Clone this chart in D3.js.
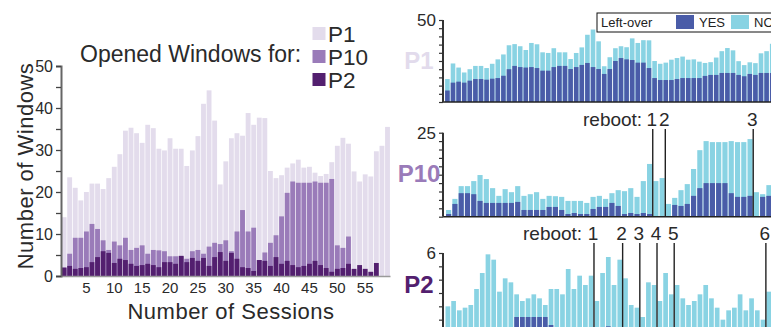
<!DOCTYPE html>
<html><head><meta charset="utf-8">
<script src="https://cdn.jsdelivr.net/npm/d3@7"></script>
<style>
body{margin:0;background:#fff;}
svg{display:block;font-family:"Liberation Sans",Arial,sans-serif;}
</style>
</head><body>
<svg id="c" width="771" height="327"></svg>
<script>
// ---------- data ----------
const p1Total = [14, 23.5, 21, 18, 20, 22, 22, 20.7, 23.3, 26,
  29, 34.6, 35.3, 34, 31.7, 36, 35.2, 30.3, 29.9, 32.8,
  30.3, 30.3, 26.2, 29.9, 33.3, 41, 44.2, 37, 21.8, 27.3,
  32.8, 34, 33.4, 38.8, 36, 37.7, 37.6, 25, 23.3, 24,
  25.8, 26.8, 27.7, 25.8, 26, 24.6, 23.8, 24.3, 27.1, 31,
  32.9, 31.5, 24.9, 22.5, 24.2, 23.7, 29.7, 31, 35.5];
const p1Yes = [7, 11.8, 12.4, 11.8, 13, 14, 14, 13.6, 14.2, 14.6,
  16, 20, 22, 21.3, 21, 21.3, 20.7, 19.1, 19.1, 21.3,
  22, 22, 20.1, 21.3, 22.6, 23.8, 21.3, 20.1, 17.1, 20.1,
  25, 26.8, 26, 25.6, 24, 24, 20.7, 14.6, 13.4, 13.4,
  13.4, 14, 14.6, 14.6, 14.6, 14.6, 15.9, 16.5, 16.5, 17.7,
  17.7, 17.7, 16.5, 15.7, 17.1, 16.5, 17.7, 17.7, 17.7];
const p10Total = [2, 5.3, 9.1, 9.1, 10.6, 12.4, 11.2, 8.5, 6.2, 8.2,
  7.3, 9.1, 6.2, 6.7, 7.3, 5.3, 6.2, 6.1, 5.9, 4.7,
  4.7, 4.7, 4.1, 5.9, 6.2, 5.3, 7, 7.9, 7.6, 8.5,
  5.9, 10.6, 15.7, 10.6, 11.5, 3.8, 5.6, 7.9, 9.7, 14.2,
  19.8, 22.5, 22.2, 22.2, 22.2, 22.5, 22.2, 22.2, 23.1, 7.3,
  6.7, 9.4];
const p10Yes = [0.8, 3.8, 7, 7, 6.7, 4.7, 4.1, 4.1, 4.1, 4.1,
  4.1, 4.4, 2, 2, 2, 2, 2.9, 2.9, 2, 0.8,
  1.1, 0.8, 0.8, 2.3, 2.9, 2.9, 4.1, 3.2, 0.8, 1.1,
  0.8, 1.1, 0.8, 0, 0, 0, 3.5, 3.2, 3.8, 6.2,
  8.5, 10, 10, 10, 10, 7, 5.9, 5.9, 6.2, 0,
  5.9, 6.2];
const p2Total = [2.0, 2.4, 1.7, 1.9, 2.1, 3.3, 4.5, 5.9, 5.5, 3.1,
  4.1, 3.8, 2.9, 2.4, 2.6, 2.9, 2.6, 2.1, 3.3, 3.3,
  2.9, 4.8, 3.3, 4.3, 3.6, 4.3, 2.4, 4.5, 5.7, 3.6,
  5.5, 4.1, 2.1, 1.9, 1.2, 3.8, 3.6, 2.4, 4.5, 2.9,
  3.6, 2.6, 2.1, 2.4, 2.9, 3.6, 2.6, 1.9, 1.0, 1.7,
  1.9, 2.9, 1.7, 2.6, 1.7, 1.0, 3.1];
const p2Yes = [0, 0, 0, 0, 0, 0, 0, 0, 0, 0,
  0, 0, 1.2, 1.2, 1.2, 1.2, 1.2, 1.2, 0.6, 0,
  0, 0, 0, 0, 0, 0, 0, 0, 0.5, 0,
  0, 0, 0, 0, 0, 0, 0, 0, 0, 0,
  0, 0, 0, 0, 0, 0, 0, 0, 0, 0,
  0, 0, 0, 0, 0, 0, 0];
const p10Reboots = [34, 36, 50];   // reboot happened before these sessions
const p2Reboots = [27, 32, 35, 38, 41, 57];
const xTickLabels = [5, 10, 15, 20, 25, 30, 35, 40, 45, 50, 55];
const yTickLabels = [0, 10, 20, 30, 40, 50];
const legendNames = ["P1", "P10", "P2"];
const leftOverNames = ["YES", "NO"];

// ---------- styles ----------
const colP1 = "#e3dcec", colP10 = "#9a7bb9", colP2 = "#531f6f";
const colYes = "#4a5ca8", colNo = "#89d3e3";
const textCol = "#2a2a2a";

const svg = d3.select("#c");

// ---------- left chart ----------
const nL = p1Total.length;
const xL = d3.scaleBand().domain(d3.range(1, nL + 1)).range([61.3, 390.3]).paddingInner(0.13).paddingOuter(0.065);
const yL = d3.scaleLinear().domain([0, 50]).range([276, 66]);
const gL = svg.append("g");

function drawBars(g, x, y, vals, color) {
  g.append("g").selectAll("rect").data(vals).join("rect")
    .attr("x", (d, i) => x(i + 1)).attr("width", x.bandwidth())
    .attr("y", d => y(d)).attr("height", d => y(0) - y(d))
    .attr("fill", color);
}
drawBars(gL, xL, yL, p1Total, colP1);
drawBars(gL, xL, yL, p10Total, colP10);
drawBars(gL, xL, yL, p2Total, colP2);

// x axis
const xAxL = gL.append("g").attr("transform", "translate(0,276.5)")
  .call(d3.axisBottom(xL).tickValues(xTickLabels).tickSize(0).tickPadding(6));
xAxL.select(".domain").attr("stroke", "#9a9a9a").attr("stroke-width", 1.6).attr("d", "M61,0H390.5");
xAxL.selectAll("text").attr("font-size", 15).attr("fill", textCol).attr("font-family", "Liberation Sans, Arial, sans-serif");

// y axis
const yAxL = gL.append("g").attr("transform", "translate(61,0)")
  .call(d3.axisLeft(yL).ticks(10).tickSize(5).tickPadding(3)
    .tickFormat(d => yTickLabels.includes(d) ? d : ""));
yAxL.select(".domain").attr("stroke", "#666").attr("stroke-width", 2);
yAxL.selectAll(".tick line").attr("stroke", "#444").attr("stroke-width", 1.3);
yAxL.selectAll("text").attr("font-size", 16).attr("fill", textCol).attr("font-family", "Liberation Sans, Arial, sans-serif");

// axis titles
svg.append("text").attr("x", 231).attr("y", 318.5).attr("text-anchor", "middle")
  .attr("font-size", 22).attr("letter-spacing", 0.5).attr("fill", textCol).text("Number of Sessions");
svg.append("text").attr("transform", "translate(33,166) rotate(-90)").attr("text-anchor", "middle")
  .attr("font-size", 22).attr("letter-spacing", 0.5).attr("fill", textCol).text("Number of Windows");

// legend
svg.append("text").attr("x", 80).attr("y", 62).attr("font-size", 23).attr("fill", textCol).text("Opened Windows for:");
const legCols = [colP1, colP10, colP2];
const leg = svg.append("g").selectAll("g").data(legendNames).join("g")
  .attr("transform", (d, i) => `translate(312.5,${27 + i * 23})`);
leg.append("rect").attr("width", 13).attr("height", 13).attr("fill", (d, i) => legCols[i]);
leg.append("text").attr("x", 15.5).attr("y", 14.5).attr("font-size", 22.5).attr("fill", textCol).text(d => d);

// ---------- right panels ----------
function panel(cfg) {
  const n = cfg.total.length;
  const x = d3.scaleBand().domain(d3.range(1, n + 1)).range(cfg.xr).paddingInner(0.18).paddingOuter(0.09);
  const y = d3.scaleLinear().domain([0, cfg.max]).range([cfg.y0, cfg.y1]);
  const g = svg.append("g");
  drawBars(g, x, y, cfg.total, colNo);
  drawBars(g, x, y, cfg.yes, colYes);
  // baseline
  g.append("g").attr("transform", `translate(0,${cfg.y0})`)
    .call(d3.axisBottom(x).tickValues([]).tickSizeOuter(0))
    .select(".domain").attr("stroke", "#222").attr("stroke-width", 1.5).attr("d", `M443,0H775`);
  const ax = g.append("g").attr("transform", "translate(443,0)")
    .call(d3.axisLeft(y).tickValues(cfg.ticks).tickSize(4).tickPadding(3)
      .tickFormat(d => d === cfg.max ? d : ""));
  ax.select(".domain").attr("stroke", "#333").attr("stroke-width", 2).attr("d", `M0,${cfg.y0}V${cfg.y1}`);
  ax.selectAll(".tick line").attr("stroke", "#333").attr("stroke-width", 1.2);
  ax.selectAll("text").attr("font-size", 17).attr("fill", textCol).attr("font-family", "Liberation Sans, Arial, sans-serif");
  svg.append("text").attr("x", 419).attr("y", cfg.labelY).attr("text-anchor", "middle")
    .attr("font-size", 24).attr("font-weight", "bold").attr("fill", cfg.labelCol).text(cfg.name);
  if (cfg.reboots) {
    const gap = x.step() - x.bandwidth();
    const rg = svg.append("g");
    rg.append("text").attr("x", cfg.rebootX).attr("y", cfg.rebootY).attr("font-size", 19)
      .attr("fill", textCol).text("reboot:");
    cfg.reboots.forEach((s, i) => {
      const lx = x(s) - gap / 2;
      rg.append("line").attr("x1", lx).attr("x2", lx).attr("y1", cfg.rebootY + 3).attr("y2", cfg.y0)
        .attr("stroke", "#222").attr("stroke-width", 1.4);
      rg.append("text").attr("x", lx - 1).attr("y", cfg.rebootY).attr("text-anchor", "middle")
        .attr("font-size", 19).attr("fill", textCol).text(i + 1);
    });
  }
  return {x, y};
}

panel({name: "P1", total: p1Total, yes: p1Yes, max: 50, ticks: d3.range(0, 51, 5),
  xr: [444.6, 444.6 + p1Total.length * 5.6], y0: 102, y1: 20, labelY: 69, labelCol: "#e2dbec"});
panel({name: "P10", total: p10Total, yes: p10Yes, max: 25, ticks: d3.range(0, 26, 2.5),
  xr: [445.5, 445.5 + p10Total.length * 6.28], y0: 216.7, y1: 132.7, labelY: 182, labelCol: "#9a7bb9",
  reboots: p10Reboots, rebootX: 583, rebootY: 126});
panel({name: "P2", total: p2Total, yes: p2Yes, max: 6, ticks: d3.range(0, 7, 1),
  xr: [445, 445 + p2Total.length * 5.73], y0: 333, y1: 253, labelY: 293, labelCol: "#531f6f",
  reboots: p2Reboots, rebootX: 523, rebootY: 240});

// left-over legend
const lo = svg.append("g");
lo.append("rect").attr("x", 597).attr("y", 13).attr("width", 200).attr("height", 19)
  .attr("fill", "#fff").attr("stroke", "#111").attr("stroke-width", 1);
lo.append("text").attr("x", 601).attr("y", 27).attr("font-size", 13).attr("fill", "#222").text("Left-over");
const loCols = [colYes, colNo];
const loX = [676, 731];
leftOverNames.forEach((nm, i) => {
  lo.append("rect").attr("x", loX[i]).attr("y", 15).attr("width", 18).attr("height", 14).attr("fill", loCols[i]);
  lo.append("text").attr("x", loX[i] + 23).attr("y", 27).attr("font-size", 13).attr("fill", "#222").text(nm);
});
</script>
</body></html>
